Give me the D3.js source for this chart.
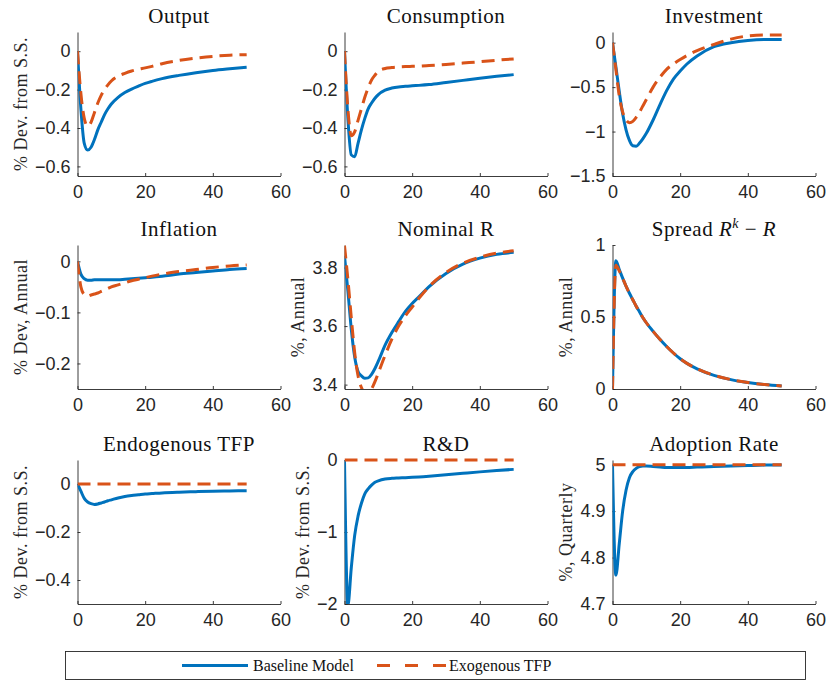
<!DOCTYPE html>
<html>
<head>
<meta charset="utf-8">
<script src="https://cdn.jsdelivr.net/npm/d3@7"></script>
<style>
  body { margin: 0; background: #fff; }
  svg { display: block; }
</style>
</head>
<body>
<div id="vis-container"></div>
<script>
// quarters after the shock (same grid for every series)
const quarters = [0, 1, 2, 3, 4, 5, 6, 7, 8, 9, 10, 12, 14, 16, 18, 20, 22, 25, 30, 35, 40, 45, 50];

const outputBase = [0, -0.3, -0.48, -0.515, -0.5, -0.46, -0.41, -0.37, -0.33, -0.3, -0.275, -0.24, -0.215, -0.197, -0.182, -0.168, -0.157, -0.143, -0.126, -0.112, -0.1, -0.091, -0.083];
const outputExo = [0, -0.22, -0.35, -0.39, -0.37, -0.32, -0.27, -0.23, -0.2, -0.175, -0.155, -0.13, -0.115, -0.103, -0.094, -0.087, -0.079, -0.065, -0.048, -0.036, -0.027, -0.021, -0.018];

const consBase = [0, -0.35, -0.54, -0.55, -0.48, -0.41, -0.35, -0.3, -0.27, -0.245, -0.226, -0.203, -0.192, -0.186, -0.183, -0.18, -0.178, -0.174, -0.163, -0.152, -0.141, -0.131, -0.122];
const consExo = [0, -0.3, -0.44, -0.42, -0.36, -0.3, -0.24, -0.19, -0.15, -0.125, -0.105, -0.09, -0.085, -0.082, -0.08, -0.079, -0.078, -0.075, -0.069, -0.062, -0.055, -0.047, -0.04];

const invBase = [0, -0.27, -0.55, -0.8, -0.98, -1.1, -1.16, -1.165, -1.13, -1.08, -1.02, -0.87, -0.7, -0.54, -0.41, -0.32, -0.24, -0.15, -0.045, 0.0, 0.025, 0.035, 0.035];
const invExo = [0, -0.3, -0.6, -0.78, -0.87, -0.9, -0.885, -0.84, -0.78, -0.71, -0.64, -0.5, -0.39, -0.3, -0.24, -0.19, -0.145, -0.09, -0.02, 0.04, 0.075, 0.085, 0.085];

const inflBase = [0, -0.025, -0.034, -0.037, -0.037, -0.036, -0.036, -0.036, -0.036, -0.036, -0.036, -0.036, -0.035, -0.034, -0.033, -0.032, -0.031, -0.029, -0.025, -0.022, -0.019, -0.016, -0.014];
const inflExo = [0, -0.05, -0.065, -0.068, -0.066, -0.064, -0.062, -0.059, -0.056, -0.053, -0.05, -0.046, -0.042, -0.038, -0.035, -0.032, -0.029, -0.025, -0.02, -0.016, -0.012, -0.009, -0.007];

const rateBase = [3.84, 3.72, 3.59, 3.495, 3.445, 3.43, 3.422, 3.423, 3.435, 3.455, 3.48, 3.535, 3.578, 3.615, 3.65, 3.677, 3.7, 3.735, 3.78, 3.812, 3.832, 3.845, 3.852];
const rateExo = [3.875, 3.76, 3.63, 3.51, 3.43, 3.39, 3.372, 3.37, 3.385, 3.41, 3.44, 3.5, 3.555, 3.6, 3.635, 3.665, 3.695, 3.735, 3.783, 3.815, 3.835, 3.849, 3.857];

const spreadBase = [0, 0.89, 0.83, 0.77, 0.715, 0.665, 0.62, 0.575, 0.535, 0.495, 0.46, 0.4, 0.345, 0.295, 0.25, 0.21, 0.178, 0.14, 0.095, 0.065, 0.045, 0.031, 0.021];
const spreadExo = [0, 0.86, 0.82, 0.77, 0.715, 0.665, 0.62, 0.575, 0.535, 0.495, 0.46, 0.4, 0.345, 0.295, 0.25, 0.21, 0.178, 0.14, 0.095, 0.065, 0.045, 0.031, 0.021];

const tfpBase = [0, -0.03, -0.06, -0.075, -0.082, -0.085, -0.083, -0.079, -0.075, -0.07, -0.066, -0.058, -0.052, -0.048, -0.045, -0.042, -0.04, -0.037, -0.034, -0.032, -0.03, -0.029, -0.028];
const tfpExo = [0, 0, 0, 0, 0, 0, 0, 0, 0, 0, 0, 0, 0, 0, 0, 0, 0, 0, 0, 0, 0, 0, 0];

const rdBase = [0, -2.02, -1.5, -1.05, -0.78, -0.6, -0.47, -0.4, -0.35, -0.31, -0.29, -0.265, -0.255, -0.25, -0.245, -0.24, -0.235, -0.225, -0.205, -0.185, -0.165, -0.147, -0.13];
const rdExo = [0, 0, 0, 0, 0, 0, 0, 0, 0, 0, 0, 0, 0, 0, 0, 0, 0, 0, 0, 0, 0, 0, 0];

const adoptBase = [5.0, 4.762, 4.83, 4.9, 4.945, 4.972, 4.985, 4.992, 4.996, 4.997, 4.997, 4.996, 4.995, 4.994, 4.994, 4.994, 4.994, 4.995, 4.996, 4.997, 4.998, 4.999, 4.999];
const adoptExo = [5, 5, 5, 5, 5, 5, 5, 5, 5, 5, 5, 5, 5, 5, 5, 5, 5, 5, 5, 5, 5, 5, 5];

const xTicks = [0, 20, 40, 60];
const seriesNames = ["Baseline Model", "Exogenous TFP"];

// panel table built from the arrays above
const panels = [
  { title: "Output", ylabel: "% Dev. from S.S.", ydom: [-0.65, 0.1], yticks: [-0.6, -0.4, -0.2, 0], base: outputBase, exo: outputExo },
  { title: "Consumption", ylabel: "", ydom: [-0.65, 0.1], yticks: [-0.6, -0.4, -0.2, 0], base: consBase, exo: consExo },
  { title: "Investment", ylabel: "", ydom: [-1.5, 0.12], yticks: [-1.5, -1, -0.5, 0], base: invBase, exo: invExo },
  { title: "Inflation", ylabel: "% Dev, Annual", ydom: [-0.25, 0.032], yticks: [-0.2, -0.1, 0], base: inflBase, exo: inflExo },
  { title: "Nominal R", ylabel: "%, Annual", ydom: [3.385, 3.877], yticks: [3.4, 3.6, 3.8], base: rateBase, exo: rateExo },
  { title: "spread", ylabel: "%, Annual", ydom: [0, 1], yticks: [0, 0.5, 1], base: spreadBase, exo: spreadExo },
  { title: "Endogenous TFP", ylabel: "% Dev. from S.S.", ydom: [-0.5, 0.1], yticks: [-0.4, -0.2, 0], base: tfpBase, exo: tfpExo },
  { title: "R&D", ylabel: "% Dev. from S.S.", ydom: [-2, 0], yticks: [-2, -1, 0], base: rdBase, exo: rdExo },
  { title: "Adoption Rate", ylabel: "%, Quarterly", ydom: [4.7, 5.01], yticks: [4.7, 4.8, 4.9, 5], base: adoptBase, exo: adoptExo }
];

const width = 827;
const height = 682;
const lefts = [77.5, 344.5, 612.5];
const tops = [32, 245, 460];
const W = 203, H = 144;
const blue = "#0072BD", red = "#D95319", ink = "#262626";
const serif = "'Liberation Serif', 'Times New Roman', serif";
const sans = "'Liberation Sans', Arial, sans-serif";

const svg = d3.select("#vis-container")
  .append("svg")
  .attr("width", width)
  .attr("height", height);

panels.forEach((p, i) => {
  const col = i % 3, row = Math.floor(i / 3);
  const g = svg.append("g").attr("transform", `translate(${lefts[col]},${tops[row]})`);

  const x = d3.scaleLinear().domain([0, 60]).range([0, W]);
  const y = d3.scaleLinear().domain(p.ydom).range([H, 0]);

  // lines may spill a little over the top edge (flat lines at the limit)
  g.append("clipPath").attr("id", "clip" + i)
    .append("rect").attr("x", 0).attr("y", -2).attr("width", W).attr("height", H + 2);

  // x axis
  const xa = g.append("g")
    .attr("transform", `translate(0,${H})`)
    .call(d3.axisBottom(x).tickValues(xTicks).tickSizeInner(-3).tickSizeOuter(0).tickPadding(9));
  // y axis
  const ya = g.append("g")
    .call(d3.axisLeft(y).tickValues(p.yticks).tickFormat(d3.format("")).tickSizeInner(-3).tickSizeOuter(0).tickPadding(7));

  [xa, ya].forEach(a => {
    a.selectAll("path, line").attr("stroke", ink).attr("stroke-width", 0.9);
    a.selectAll("text").attr("fill", ink).style("font-family", sans).style("font-size", "18px");
  });

  // lines
  const line = d3.line()
    .x((d, k) => x(quarters[k]))
    .y(d => y(d))
    .curve(d3.curveMonotoneX);

  const plot = g.append("g").attr("clip-path", `url(#clip${i})`);
  plot.append("path").datum(p.base)
    .attr("d", line).attr("fill", "none")
    .attr("stroke", blue).attr("stroke-width", 3);
  plot.append("path").datum(p.exo)
    .attr("d", line).attr("fill", "none")
    .attr("stroke", red).attr("stroke-width", 3)
    .attr("stroke-dasharray", "13,7");

  // title
  const t = g.append("text")
    .attr("x", W / 2).attr("y", -9)
    .attr("text-anchor", "middle")
    .style("font-family", serif).style("font-size", "21px")
    .style("letter-spacing", "0.5px")
    .attr("fill", "#111");
  if (p.title === "spread") {
    t.append("tspan").text("Spread ");
    t.append("tspan").style("font-style", "italic").text("R");
    t.append("tspan").attr("dy", -8).style("font-size", "14px").style("font-style", "italic").text("k");
    t.append("tspan").attr("dy", 8).text(" \u2212 ");
    t.append("tspan").style("font-style", "italic").text("R");
  } else {
    t.text(p.title);
  }

  // y label, placed just left of the tick labels
  if (p.ylabel) {
    const bb = ya.node().getBBox();
    g.append("text")
      .attr("transform", `translate(${bb.x - 8},${H / 2}) rotate(-90)`)
      .attr("text-anchor", "middle")
      .style("font-family", serif).style("font-size", "18px")
      .style("letter-spacing", "0.5px")
      .attr("fill", ink)
      .text(p.ylabel);
  }
});

// legend
const leg = svg.append("g");
leg.append("rect")
  .attr("x", 65.5).attr("y", 651.5).attr("width", 740).attr("height", 28)
  .attr("fill", "#fff").attr("stroke", ink).attr("stroke-width", 0.9);
const ly = 665.5;
leg.append("line").attr("x1", 182).attr("x2", 248).attr("y1", ly).attr("y2", ly)
  .attr("stroke", blue).attr("stroke-width", 3);
leg.append("text").attr("x", 253).attr("y", ly + 5)
  .style("font-family", serif).style("font-size", "16px").attr("fill", "#111")
  .text(seriesNames[0]);
leg.append("line").attr("x1", 377).attr("x2", 446).attr("y1", ly).attr("y2", ly)
  .attr("stroke", red).attr("stroke-width", 3).attr("stroke-dasharray", "13,15");
leg.append("text").attr("x", 449).attr("y", ly + 5)
  .style("font-family", serif).style("font-size", "16px").attr("fill", "#111")
  .text(seriesNames[1]);
</script>
</body>
</html>
